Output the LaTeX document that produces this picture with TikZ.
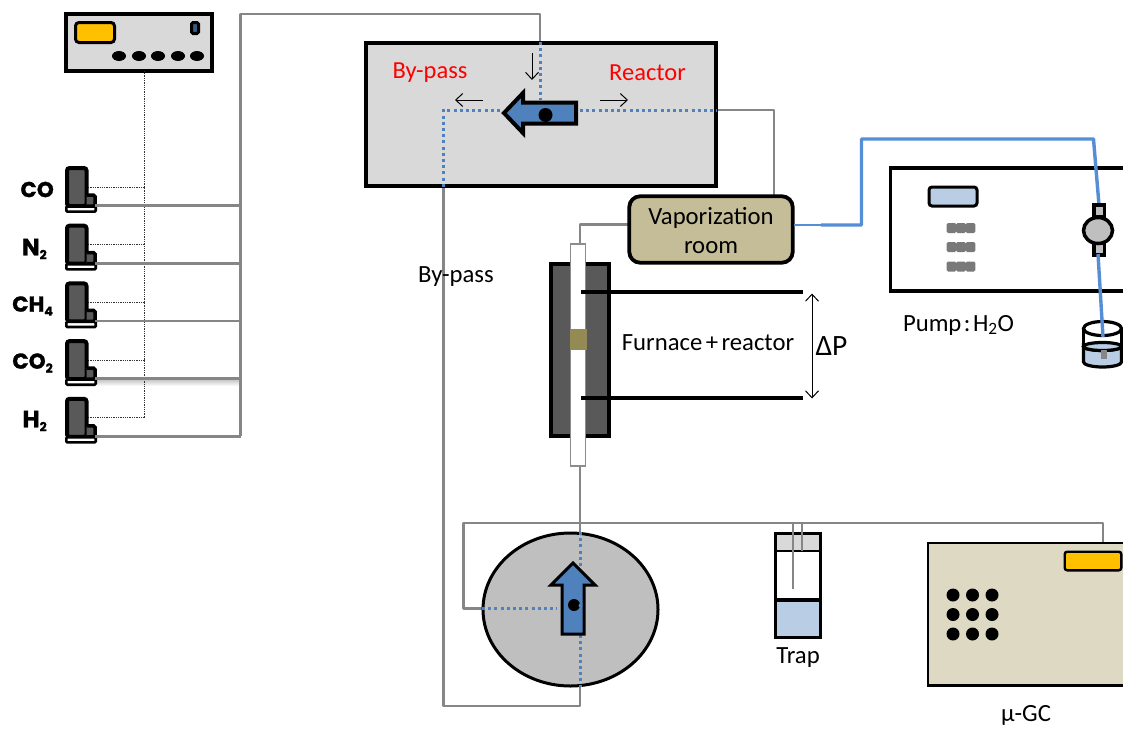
\documentclass[tikz,border=0pt]{standalone}
\usepackage{fontspec}
\setmainfont{Carlito}
\newfontfamily\gasfont{Poppins}[UprightFont=* Bold,UprightFeatures={FakeBold=1.2}]
\usetikzlibrary{arrows.meta,calc,shapes.geometric}
\definecolor{panel}{HTML}{D9D9D9}
\definecolor{amber}{HTML}{FFC000}
\definecolor{valveblue}{HTML}{4F81BD}
\definecolor{waterblue}{HTML}{B9CDE5}
\definecolor{pipeblue}{HTML}{558ED5}
\definecolor{pipegray}{HTML}{868686}
\definecolor{darkgrayfill}{HTML}{595959}
\definecolor{khaki}{HTML}{C4BD97}
\definecolor{gcfill}{HTML}{DDD9C3}
\definecolor{olive}{HTML}{948A54}
\tikzset{
  x=1pt,y=-1pt,
  box/.style={draw=black,line width=3.8pt,inner sep=0pt,outer sep=0pt,rectangle},
  lab/.style={font=\fontsize{24.7}{29}\selectfont,text=black,inner sep=0pt,align=center},
  redlab/.style={font=\fontsize{24.5}{29}\selectfont,text=red,inner sep=0pt},
  gaslab/.style={font=\gasfont\fontsize{21.5}{24}\selectfont,anchor=east,inner sep=0pt,text=black},
  gaspipe/.style={draw=pipegray,line width=2.6pt,line join=round},
  signal/.style={draw=black!80,line width=1pt,dash pattern=on 1.3pt off 1pt},
  flowdot/.style={draw=valveblue,line width=3pt,dash pattern=on 3pt off 3.2pt},
  water/.style={draw=pipeblue,line width=3.4pt,line join=round},
  thinarrow/.style={draw=black,line width=1pt,-{Straight Barb[length=7pt,width=13pt,line width=1pt]}},
  valve/.style={draw=black,fill=valveblue,line join=miter,miter limit=6},
  blackdot/.style={circle,fill=black,inner sep=0pt,outer sep=0pt},
  bottle/.pic={
    \draw[line width=4pt,fill=darkgrayfill,rounded corners=2.5pt] (86.5,206) -- (86.5,168) -- (67,168) -- (67,206) -- cycle;
    \draw[line width=3.5pt,fill=darkgrayfill,rounded corners=1.5pt] (86.5,195) -- (95,195) -- (95,206) -- (86.5,206);
    \draw[line width=2.6pt,fill=white,rounded corners=1pt] (66.3,206.5) rectangle (95.7,211.6);
  }
}
\begin{document}
\begin{tikzpicture}
\useasboundingbox (0,0) rectangle (1123,728);
\clip (0,0) rectangle (1123,728);

% shadow under the CO2 line
\shade[top color=black!28,bottom color=white] (97,378) rectangle (240,386);

% named junctions
\coordinate (busTL) at (240.5,14);
\coordinate (busBL) at (240.5,436);
\coordinate (inTop) at (540,14);
\coordinate (inBox) at (540,42);
\coordinate (sigB) at (144.5,418);
\coordinate (bpCorner) at (443.5,110);
\coordinate (bpExit) at (443.5,187);
\coordinate (bpBottom) at (443.5,706);
\coordinate (v2Bottom) at (580,706);
\coordinate (v2Exit) at (580,687);
\coordinate (v2Top) at (580,532);
\coordinate (rcOut) at (717,110);
\coordinate (rcCorner) at (774,110);
\coordinate (vpTop) at (774,195);
\coordinate (vpLeft) at (628,224.5);
\coordinate (tubeCorner) at (580,224.5);
\coordinate (tubeTop) at (580,244);
\coordinate (tubeBottom) at (580,466);
\coordinate (ventLeft) at (463.5,523);
\coordinate (ventRight) at (1103,523);
\coordinate (ventDown) at (1103,542);
\coordinate (v2Left) at (482,608.5);
\coordinate (ventElbow) at (463.5,608.5);
\coordinate (trapA) at (793,523);
\coordinate (trapAend) at (793,589);
\coordinate (trapB) at (802,523);
\coordinate (trapBend) at (802,551);

% controller
\node[box,fill=panel,minimum width=145.5pt,minimum height=56.5pt] (ctrl) at (139,42.5) {};
\node[draw=black,line width=3pt,fill=amber,rounded corners=3.5pt,minimum width=39pt,minimum height=20pt,inner sep=0pt] (ctrlscreen) at (95,32.5) {};
\foreach \x in {119,139,158,178,197}
  \fill[black] (\x,56) ellipse [x radius=7,y radius=5];
\node[draw=black,fill=valveblue!70!black,line width=3pt,rounded corners=1.5pt,minimum width=7pt,minimum height=11pt,inner sep=0pt] (ctrlled) at (195,28) {};

% gas lines and signal wires
\draw[signal] (ctrl.south -| sigB) -- (sigB);
\foreach \dy/\g in {0/co,57.7/ntwo,115.4/chfour,173.1/cotwo,230.8/htwo}{
  \coordinate (sig\g) at (88,187+\dy);
  \coordinate (sigj\g) at (144.5,187+\dy);
  \coordinate (gas\g) at (95,205.5+\dy);
  \coordinate (gasj\g) at (240.5,205.5+\dy);
  \draw[signal] (sig\g) -- (sigj\g);
  \pic at (0,\dy) {bottle};
  \draw[gaspipe] (gas\g) -- (gasj\g);
}
\draw[gaspipe] (busBL) -- (busTL) -- (inTop) -- (inBox);

\node[gaslab] (lco) at (54,189.5) {CO};
\node[gaslab,font=\gasfont\fontsize{23.5}{26}\selectfont] (ln) at (47,249) {N\raisebox{-4pt}{\fontsize{12.5}{13}\selectfont 2}};
\node[gaslab] (lch) at (53,306) {CH\raisebox{-4pt}{\fontsize{12.5}{13}\selectfont 4}};
\node[gaslab] (lcot) at (53,363) {CO\raisebox{-4pt}{\fontsize{12.5}{13}\selectfont 2}};
\node[gaslab,font=\gasfont\fontsize{23.5}{26}\selectfont] (lh) at (47,421) {H\raisebox{-4pt}{\fontsize{12.5}{13}\selectfont 2}};

% grey connectors
\draw[gaspipe] (bpExit) -- (bpBottom) -- (v2Bottom) -- (v2Exit);
\draw[gaspipe] (rcOut) -- (rcCorner) -- (vpTop);
\draw[gaspipe] (vpLeft) -- (tubeCorner) -- (tubeTop);
\draw[gaspipe] (tubeBottom) -- (v2Top);
\draw[gaspipe] (v2Left) -- (ventElbow) -- (ventLeft) -- (ventRight) -- (ventDown);

% 4-way valve box
\node[box,fill=panel,minimum width=350pt,minimum height=143pt] (vbox) at (541,114.5) {};
\draw[flowdot] (inBox) -- (540,100);
\draw[flowdot] (580,110) -- (rcOut);
\draw[flowdot] (500,110) -- (bpCorner) -- (bpExit);
\draw[valve,line width=4pt] (504,113) -- (523,93) -- (523,102.5) -- (576,102.5) -- (576,123.5) -- (523,123.5) -- (523,133) -- cycle;
\node[blackdot,minimum size=14pt] (vdot) at (545.5,115) {};
\coordinate (aDs) at (532,53); \coordinate (aDe) at (532,80);
\coordinate (aLs) at (483,100); \coordinate (aLe) at (455,100);
\coordinate (aRs) at (600,100); \coordinate (aRe) at (628,100);
\draw[thinarrow] (aDs) -- (aDe);
\draw[thinarrow] (aLs) -- (aLe);
\draw[thinarrow] (aRs) -- (aRe);
\node[redlab] (tbp) at (430,73) {By-pass};
\node[redlab] (trc) at (647.5,73) {Reactor};
\node[lab] (tbp2) at (456,276.5) {By-pass};

% vaporization room
\node[box,fill=khaki,rounded corners=11pt,minimum width=163.5pt,minimum height=66.5pt] (vap) at (711,229.5) {};
\node[lab] (tvap) at (711,231) {Vaporization\\room};

% furnace
\node[draw=black,line width=3.8pt,fill=darkgrayfill,minimum width=58pt,minimum height=172pt,inner sep=0pt] (furn) at (580,350) {};
\node[draw=black!45,line width=1.2pt,fill=white,minimum width=15pt,minimum height=222pt,inner sep=0pt] (tube) at (578,355) {};
\node[fill=olive,minimum width=17pt,minimum height=21pt,inner sep=0pt] (cat) at (578,339.5) {};
\coordinate (pTa) at (581,292); \coordinate (pTb) at (803,292);
\coordinate (pBa) at (581,398); \coordinate (pBb) at (803,398);
\draw[black,line width=3.2pt] (pTa) -- (pTb);
\draw[black,line width=3.2pt] (pBa) -- (pBb);
\coordinate (dpT) at (812,293.5); \coordinate (dpB) at (812,398.5);
\draw[draw=black,line width=1pt,{Straight Barb[length=7pt,width=13pt,line width=1pt]}-{Straight Barb[length=7pt,width=13pt,line width=1pt]}] (dpT) -- (dpB);
\node[lab] (tf) at (708,343) {Furnace\hspace{.14em}+\hspace{.14em}reactor};
\node[font=\fontsize{29.5}{32}\selectfont,inner sep=0pt] (tdp) at (831.5,346.5) {ΔP};

% water line and pump
\node[draw=black,line width=3.2pt,fill=white,minimum width=301pt,minimum height=123pt,inner sep=0pt] (pump) at (1041,229.5) {};
\node[draw=black,line width=3pt,fill=waterblue,rounded corners=3pt,minimum width=48pt,minimum height=19pt,inner sep=0pt] (pumpscreen) at (953,196.5) {};
\foreach \y in {228,247,266.5}
  \foreach \x in {951.5,961,970.5}
    \fill[pipegray!90!black,rounded corners=1.5pt] (\x-4.8,\y-5) rectangle (\x+4.8,\y+5);
\node[lab] (tpump) at (958.5,325) {Pump\hspace{.1em}:\hspace{.1em}H\textsubscript{2}O};
\coordinate (wA) at (794,225); \coordinate (wB) at (821,225); \coordinate (wC) at (861.5,225);
\coordinate (wD) at (861.5,139); \coordinate (wE) at (1093.5,139); \coordinate (wF) at (1099,205);
\coordinate (wG) at (1098,254); \coordinate (wH) at (1103,337);
\draw[draw=pipeblue,line width=1.2pt] (wA) -- (wB);
\draw[water] (wB) -- (wC) -- (wD) -- (wE) -- (wF);

% pump head
\node[draw=black,line width=3.5pt,fill=black!25,minimum width=10.5pt,minimum height=12pt,inner sep=0pt] (pt1) at (1099,211) {};
\node[draw=black,line width=3.5pt,fill=black!25,minimum width=10.5pt,minimum height=12pt,inner sep=0pt] (pt2) at (1099,249) {};
\node[ellipse,draw=black,line width=3.5pt,fill=black!25,minimum width=29pt,minimum height=26pt,inner sep=0pt] (phead) at (1098,230.5) {};

% beaker
\draw[black,line width=3.2pt,fill=waterblue] (1083.5,346.5) -- (1083.5,362) arc[start angle=180,end angle=0,x radius=19,y radius=5] -- (1121.5,346.5) arc[start angle=0,end angle=180,x radius=19,y radius=4] -- cycle;
\draw[black,line width=3.2pt,fill=waterblue] (1102.5,346.5) ellipse [x radius=19,y radius=4];
\draw[black,line width=3.2pt] (1083.5,346.5) -- (1083.5,328.5) (1121.5,346.5) -- (1121.5,328.5);
\draw[black,line width=3.2pt] (1102.5,328.5) ellipse [x radius=19,y radius=7];
\fill[pipegray] (1101,350) rectangle (1107,359);
\draw[water] (wG) -- (wH);

% rotary valve
\node[ellipse,draw=black,line width=3pt,fill=black!25,minimum width=175pt,minimum height=153pt,inner sep=0pt] (v2) at (570.5,609.5) {};
\draw[flowdot] (v2Top) -- (580,567);
\draw[flowdot] (580,635) -- (v2Exit);
\draw[flowdot] (v2Left) -- (557,608.5);
\draw[valve,line width=3pt] (573,563) -- (595,585) -- (584,585) -- (584,634) -- (562,634) -- (562,585) -- (551,585) -- cycle;
\node[blackdot,minimum size=12pt] (v2dot) at (574,605) {};
\fill[valveblue] (580.5,605.5) circle (2);

% trap
\draw[black,line width=3.6pt,fill=panel] (775.6,533.6) rectangle (820.4,552);
\fill[white] (775.6,552) rectangle (820.4,600);
\draw[black,line width=3.6pt,fill=waterblue] (775.6,600) rectangle (820.4,637.4);
\draw[black,line width=3.6pt] (775.6,533.6) rectangle (820.4,637.4);
\draw[gaspipe] (trapA) -- (trapAend);
\draw[gaspipe] (trapB) -- (trapBend);
\node[lab] (ttrap) at (798,657.5) {Trap};

% micro-GC
\node[draw=black,line width=2.4pt,fill=gcfill,minimum width=242pt,minimum height=142.6pt,inner sep=0pt] (gc) at (1049.2,614) {};
\draw[gaspipe] (ventRight) -- (ventDown);
\node[draw=black,line width=2.4pt,fill=amber,rounded corners=2.5pt,minimum width=56.6pt,minimum height=18.6pt,inner sep=0pt] (gcscreen) at (1093,561) {};
\foreach \x in {953,972.5,992}
  \foreach \y in {595,614.5,634}
    \fill[black] (\x,\y) circle (6.5);
\node[lab] (tgc) at (1026,715.5) {µ-GC};
\end{tikzpicture}
\end{document}
